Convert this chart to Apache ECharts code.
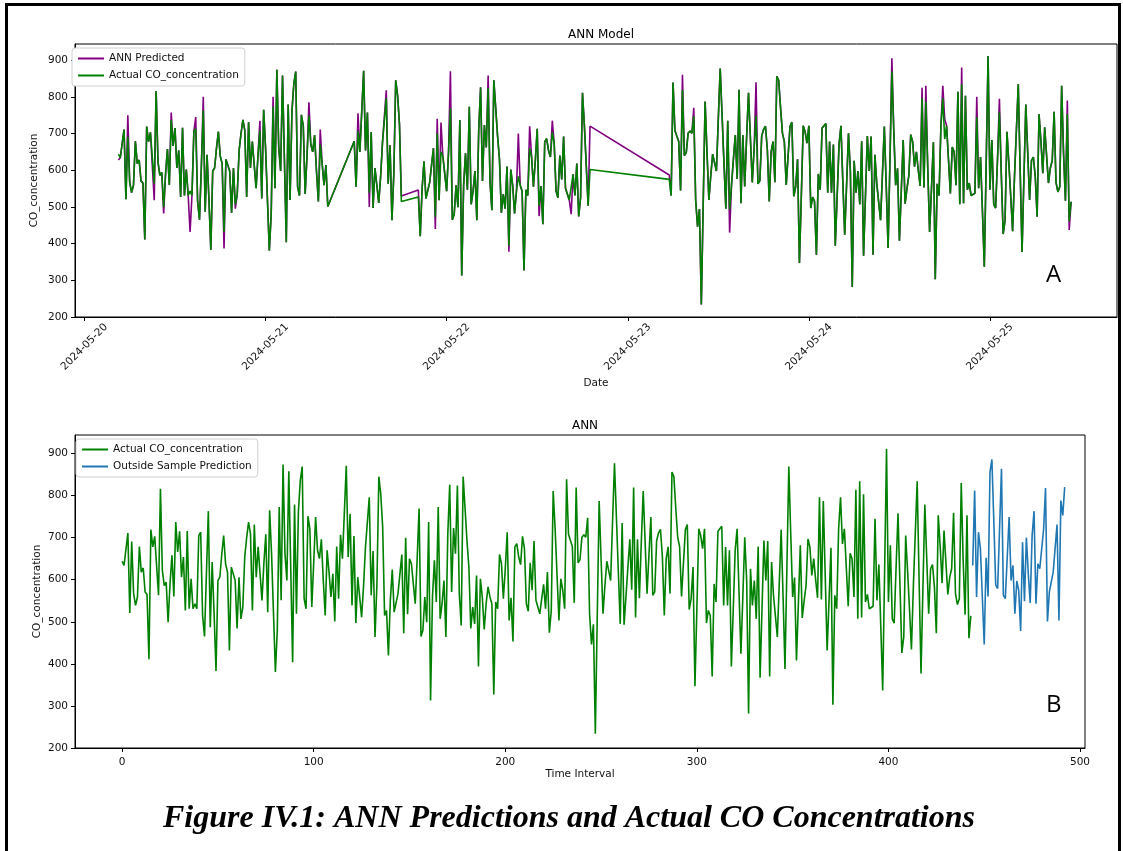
<!DOCTYPE html>
<html>
<head>
<meta charset="utf-8">
<script src="https://cdn.jsdelivr.net/npm/echarts@6/dist/echarts.min.js"></script>
<style>
  html, body { margin: 0; padding: 0; background: #fff; }
  #chart { position: absolute; left: 0; top: 0; width: 1123px; height: 851px; }
  #frame { position: absolute; left: 5px; top: 3px; width: 1116px; height: 900px;
           border: 3px solid #000; box-sizing: border-box; pointer-events: none; }
</style>
</head>
<body>
<div id="chart"></div>
<div id="frame"></div>
<script>
// Measured CO concentration, one record every 15 minutes
const actualCO = [
  644,634,630,711,521,691,567,539,559,679, 618,628,571,565,411,719,678,703,705,563,
  816,622,586,594,499,590,658,560,737,666, 715,606,654,527,716,531,602,531,543,531,
  705,713,515,465,614,763,487,642,520,383, 598,606,660,705,638,618,432,630,630,598,
  484,606,507,535,654,700,737,709,527,731, 606,678,614,551,640,708,523,765,662,658,
  381,480,773,551,874,662,598,858,630,404, 779,519,761,836,869,555,531,751,721,535,
  640,749,670,650,696,598,515,670,618,559, 614,501,679,555,707,650,654,871,654,757,
  539,704,497,606,606,511,583,676,674,796, 563,668,464,590,845,804,725,515,527,420,
  551,624,523,523,567,614,660,473,700,518, 650,638,590,543,650,769,465,480,559,499,
  737,313,560,646,547,773,507,543,598,464, 709,826,571,723,662,824,567,491,845,770,
  693,630,484,535,495,610,394,602,559,482, 543,583,559,543,327,547,531,660,638,555,
  626,713,503,557,453,678,686,654,636,703, 674,543,525,640,575,692,551,547,519,515,
  589,531,618,474,526,811,723,721,503,602, 575,531,839,708,693,679,545,819,640,648,
  701,707,701,747,519,446,494,234,510,787, 650,519,585,644,644,598,740,877,750,620,
  495,735,493,560,630,696,576,819,510,696, 556,690,811,812,567,660,749,563,571,693,
  711,720,655,515,650,678,567,856,845,770, 701,678,560,559,719,731,529,555,630,347,
  530,721,705,674,721,497,527,515,370,590, 547,715,713,727,539,678,539,670,394,530,
  670,721,570,424,560,701,598,282,626,539, 598,507,679,367,530,693,598,692,370,642,
  563,565,464,590,719,560,388,630,869,710, 559,605,408,545,682,509,550,586,697,678,
  610,650,600,557,796,553,787,610,432,550, 676,303,563,531,721,796,685,721,630,537,
  663,650,559,814,507,834,510,803,547,565, 531,531,537,745,551,636,490,337,620,911,
  547,682,507,497,630,758,590,426,464,705, 620,530,434,583,586,834,600,377,580,779,
  650,519,626,636,583,473,753,680,592,717, 713,565,606,626,759,567,541,555,830,646,
  517,753,461,514
];

// ANN model output for the same records
const annPredicted = [
  628,634,630,711,521,750,567,539,559,679, 618,628,571,565,411,719,678,703,705,518,
  816,622,586,594,482,590,658,560,757,666, 715,606,654,527,716,531,602,531,432,531,
  705,745,515,465,614,800,487,642,520,383, 598,606,660,705,638,618,387,630,630,598,
  484,606,495,535,654,700,737,709,527,731, 606,678,614,551,640,735,523,765,662,658,
  381,480,800,551,874,662,598,858,630,404, 779,519,761,836,869,555,531,751,721,535,
  640,785,670,650,696,598,515,711,618,559, 614,501,679,555,755,650,654,871,654,757,
  500,704,497,606,606,511,583,676,674,818, 563,668,464,590,845,804,725,530,546,420,
  551,624,523,523,567,614,660,440,740,518, 730,638,590,543,650,870,465,480,559,499,
  737,313,560,646,547,773,507,543,598,464, 709,826,571,723,662,858,567,491,845,770,
  693,630,484,535,495,610,378,602,559,482, 543,700,559,543,327,547,531,720,638,555,
  626,713,475,557,453,678,686,654,636,735, 674,543,525,640,575,692,551,547,519,480,
  589,531,618,474,526,811,723,721,503,720, 587,531,839,708,693,679,545,860,640,648,
  701,707,701,770,519,446,494,234,510,787, 650,519,585,644,644,598,740,877,750,620,
  495,735,430,560,630,696,576,819,510,696, 556,690,811,812,567,660,840,563,571,693,
  711,720,655,515,650,678,567,856,845,770, 701,678,560,559,719,731,529,555,630,347,
  530,721,705,674,721,497,527,515,370,590, 547,715,713,727,539,678,539,670,394,530,
  670,721,570,424,560,701,598,282,626,539, 598,507,679,367,530,693,598,692,370,642,
  563,565,464,590,719,560,388,630,905,710, 559,605,408,545,682,509,550,586,697,678,
  610,650,600,557,825,553,830,610,432,550, 676,303,563,531,721,830,740,721,630,537,
  663,650,559,814,507,880,510,803,547,565, 531,531,537,800,551,636,490,337,620,911,
  547,682,507,497,630,795,590,426,464,705, 620,530,434,583,586,834,600,377,580,779,
  650,519,626,636,583,473,753,680,592,717, 713,565,606,626,759,567,541,555,830,646,
  517,790,437,514
];

// Forecast beyond the measured records
const outsidePrediction = [
  634,812,559,713,674,560,446,652,560,856, 886,740,587,579,720,864,563,555,559,749,
  598,634,519,597,575,478,689,549,700,614, 545,705,763,543,638,626,628,720,818,501,
  571,575,618,618,731,503,788,753,820
];

// Logging runs (the sensor was offline between them)
const runStarts  = ['2024-05-20 04:30', '2024-05-21 11:45', '2024-05-21 20:15', '2024-05-23 05:30'];
const runLengths = [112, 26, 92, 214];
const stepMinutes = 15;

const dateTicks = ['2024-05-20', '2024-05-21', '2024-05-22', '2024-05-23', '2024-05-24', '2024-05-25'];
const coTicks = [200, 300, 400, 500, 600, 700, 800, 900];
const intervalTicks = [0, 100, 200, 300, 400, 500];

function parseLocal(s) {
  const [d, t] = s.split(' ');
  const [y, m, day] = d.split('-').map(Number);
  const [hh, mm] = (t || '00:00').split(':').map(Number);
  return new Date(y, m - 1, day, hh, mm).getTime();
}
function fmtDate(v) {
  const d = new Date(v);
  const p = n => String(n).padStart(2, '0');
  return d.getFullYear() + '-' + p(d.getMonth() + 1) + '-' + p(d.getDate());
}

const timestamps = [];
runStarts.forEach((s, r) => {
  const t0 = parseLocal(s);
  for (let k = 0; k < runLengths[r]; k++) timestamps.push(t0 + k * stepMinutes * 60000);
});

const dateTickValues = dateTicks.map(d => parseLocal(d));

const FONT = 'DejaVu Sans';
const PURPLE = '#800080', GREEN = '#008000', BLUE = '#1f77b4';

const tickStyle = { show: true, length: 4, lineStyle: { color: '#000', width: 1 } };
const labelBase = { color: '#111', fontSize: 10.5, fontFamily: FONT };
const nameStyle = { color: '#111', fontSize: 10.5, fontFamily: FONT };

const chart = echarts.init(document.getElementById('chart'), null, { renderer: 'canvas' });

chart.setOption({
  animation: false,
  backgroundColor: '#fff',
  textStyle: { fontFamily: FONT },
  title: [
    { text: 'ANN Model', left: 596, top: 24, textAlign: 'center',
      textStyle: { fontSize: 12, fontWeight: 'normal', color: '#000', fontFamily: FONT } },
    { text: 'ANN', left: 580, top: 415, textAlign: 'center',
      textStyle: { fontSize: 12, fontWeight: 'normal', color: '#000', fontFamily: FONT } }
  ],
  legend: [
    { left: 72, top: 48, orient: 'vertical', data: ['ANN Predicted', 'Actual CO_concentration'],
      icon: 'rect', itemWidth: 26, itemHeight: 2, itemGap: 6,
      padding: [5, 6, 5, 6], borderColor: '#d0d0d0', borderWidth: 1, borderRadius: 3,
      backgroundColor: '#fff', textStyle: { fontSize: 10.5, color: '#111', fontFamily: FONT },
      selectedMode: false },
    { left: 76, top: 439, orient: 'vertical', data: ['Actual CO_concentration', 'Outside Sample Prediction'],
      icon: 'rect', itemWidth: 26, itemHeight: 2, itemGap: 6,
      padding: [5, 6, 5, 6], borderColor: '#d0d0d0', borderWidth: 1, borderRadius: 3,
      backgroundColor: '#fff', textStyle: { fontSize: 10.5, color: '#111', fontFamily: FONT },
      selectedMode: false }
  ],
  grid: [
    { left: 75, right: 6, top: 44, height: 273, show: true, borderColor: '#000', borderWidth: 1, containLabel: false },
    { left: 75, right: 38, top: 435, height: 313, show: true, borderColor: '#000', borderWidth: 1, containLabel: false }
  ],
  xAxis: [
    { type: 'value', gridIndex: 0,
      min: parseLocal('2024-05-19 22:45'), max: parseLocal('2024-05-25 16:50'),
      axisLine: { show: true, onZero: false, lineStyle: { color: '#000', width: 1 } },
      axisTick: Object.assign({ customValues: dateTickValues }, tickStyle),
      axisLabel: Object.assign({ customValues: dateTickValues, formatter: v => fmtDate(v),
        rotate: 45, align: 'center', verticalAlign: 'middle', margin: 30 }, labelBase),
      splitLine: { show: false },
      name: 'Date', nameLocation: 'middle', nameGap: 61, nameTextStyle: nameStyle },
    { type: 'value', gridIndex: 1, min: -24.6, max: 502.6,
      axisLine: { show: true, onZero: false, lineStyle: { color: '#000', width: 1 } },
      axisTick: Object.assign({ customValues: intervalTicks }, tickStyle),
      axisLabel: Object.assign({ customValues: intervalTicks, margin: 9 }, labelBase),
      splitLine: { show: false },
      name: 'Time Interval', nameLocation: 'middle', nameGap: 21, nameTextStyle: nameStyle }
  ],
  yAxis: [
    { type: 'value', gridIndex: 0, min: 200, max: 944,
      axisLine: { show: true, onZero: false, lineStyle: { color: '#000', width: 1 } },
      axisTick: Object.assign({ customValues: coTicks }, tickStyle),
      axisLabel: Object.assign({ customValues: coTicks, margin: 7 }, labelBase),
      splitLine: { show: false },
      name: 'CO_concentration', nameLocation: 'middle', nameGap: 35, nameMoveOverlap: false,
      nameTextStyle: nameStyle },
    { type: 'value', gridIndex: 1, min: 200, max: 944,
      axisLine: { show: true, onZero: false, lineStyle: { color: '#000', width: 1 } },
      axisTick: Object.assign({ customValues: coTicks }, tickStyle),
      axisLabel: Object.assign({ customValues: coTicks, margin: 7 }, labelBase),
      splitLine: { show: false },
      name: 'CO_concentration', nameLocation: 'middle', nameGap: 32, nameMoveOverlap: false,
      nameTextStyle: nameStyle }
  ],
  series: [
    { name: 'ANN Predicted', type: 'line', xAxisIndex: 0, yAxisIndex: 0,
      showSymbol: false, lineStyle: { color: PURPLE, width: 1.6 }, itemStyle: { color: PURPLE },
      data: timestamps.map((t, i) => [t, annPredicted[i]]) },
    { name: 'Actual CO_concentration', type: 'line', xAxisIndex: 0, yAxisIndex: 0,
      showSymbol: false, lineStyle: { color: GREEN, width: 1.6 }, itemStyle: { color: GREEN },
      data: timestamps.map((t, i) => [t, actualCO[i]]) },
    { name: 'Actual CO_concentration', type: 'line', xAxisIndex: 1, yAxisIndex: 1,
      showSymbol: false, lineStyle: { color: GREEN, width: 1.6 }, itemStyle: { color: GREEN },
      data: actualCO.map((v, i) => [i, v]) },
    { name: 'Outside Sample Prediction', type: 'line', xAxisIndex: 1, yAxisIndex: 1,
      showSymbol: false, lineStyle: { color: BLUE, width: 1.6 }, itemStyle: { color: BLUE },
      data: outsidePrediction.map((v, j) => [actualCO.length + j, v]) }
  ],
  graphic: [
    { type: 'text', left: 1046, top: 263, style: { text: 'A', fontSize: 24, fontFamily: 'Open Sans', fill: '#000' } },
    { type: 'text', left: 1046, top: 693, style: { text: 'B', fontSize: 24, fontFamily: 'Open Sans', fill: '#000' } },
    { type: 'text', left: 163, top: 803,
      style: { text: 'Figure IV.1: ANN Predictions and Actual CO Concentrations',
               font: 'italic bold 32px "Liberation Serif"', fill: '#000' } }
  ]
});
</script>
</body>
</html>
